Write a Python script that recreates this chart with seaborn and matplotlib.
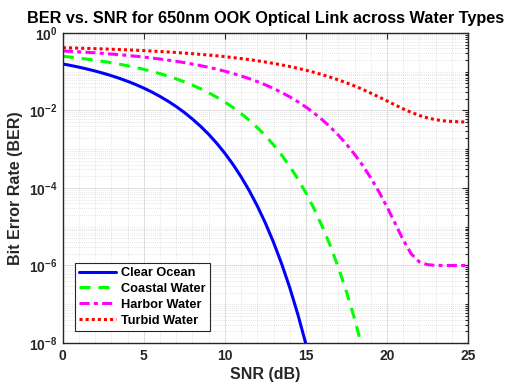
import numpy as np
import pandas as pd
import seaborn as sns
import matplotlib
matplotlib.use('Agg')
import matplotlib.pyplot as plt
from matplotlib.ticker import MultipleLocator, FixedLocator, LogLocator, FuncFormatter, NullFormatter

# =========================
# data (BER at each SNR step in dB)
nan = np.nan
snr_db = [0, 0.5, 1, 1.5, 2, 2.5, 3, 3.5, 4, 4.5, 5, 5.5, 6, 6.5, 7, 7.5, 8, 8.5,
          9, 9.5, 10, 10.5, 11, 11.5, 12, 12.5, 13, 13.5, 14, 14.5, 15, 15.5, 16,
          16.5, 17, 17.5, 18, 18.5, 19, 19.5, 20, 20.5, 21, 21.5, 22, 22.5, 23,
          23.5, 24, 24.5, 25]

clear_ocean = [0.1587, 0.1448, 0.1310, 0.1173, 0.1040, 0.0912, 0.0789, 0.0673,
               0.0565, 0.0466, 0.0377, 0.0298, 0.0230, 0.01728, 0.01258, 0.00886,
               0.0060, 0.00390, 0.00242, 0.00142, 7.83e-4, 4.05e-4, 1.94e-4,
               8.56e-5, 3.43e-5, 1.24e-5, 3.97e-6, 1.11e-6, 2.69e-7, 5.50e-8,
               9.34e-9, 1.28e-9, 1.40e-10,
               nan, nan, nan, nan, nan, nan, nan, nan, nan, nan, nan, nan, nan,
               nan, nan, nan, nan, nan]

coastal_water = [0.250, 0.2375, 0.2246, 0.2114, 0.1979, 0.1842, 0.1704, 0.1564,
                 0.1425, 0.1287, 0.1152, 0.1019, 0.0892, 0.0770, 0.0655, 0.0548,
                 0.0451, 0.0363, 0.0286, 0.0220, 0.01646, 0.01193, 0.00835,
                 0.00562, 0.00362, 0.00223, 0.00129, 7.07e-4, 3.62e-4, 1.71e-4,
                 7.44e-5, 2.93e-5, 1.03e-5, 3.27e-6, 8.9e-7, 2.11e-7, 4.2e-8,
                 6.89e-9, 9.2e-10,
                 nan, nan, nan, nan, nan, nan, nan, nan, nan, nan, nan, nan]

harbor_water = [0.3446, 0.3359, 0.3268, 0.3173, 0.3073, 0.2969, 0.2860, 0.2748,
                0.2630, 0.2509, 0.2384, 0.2256, 0.2124, 0.1990, 0.1853, 0.1715,
                0.1575, 0.1436, 0.1298, 0.1162, 0.1030, 0.0901, 0.0779, 0.0664,
                0.0557, 0.0458, 0.0370, 0.0292, 0.0225, 0.01686, 0.01224,
                0.00860, 0.00580, 0.00375, 0.00231, 0.00135, 7.44e-4, 3.83e-4,
                1.83e-4, 8.06e-5, 3.27e-5, 1.23e-5, 4.6e-6, 1.99e-6, 1.24e-6,
                1.05e-6, 1.01e-6, 1.0e-6, 1.0e-6, 1.0e-6, 1.0e-6]

turbid_water = [0.4165, 0.4114, 0.4059, 0.4001, 0.3942, 0.3878, 0.3810, 0.3740,
                0.3665, 0.3587, 0.3505, 0.3418, 0.3327, 0.3233, 0.3133, 0.3030,
                0.2922, 0.2809, 0.2693, 0.2572, 0.2448, 0.2319, 0.2188, 0.2054,
                0.1917, 0.1779, 0.1640, 0.1501, 0.1362, 0.1226, 0.1093, 0.0965,
                0.0841, 0.0725, 0.0617, 0.0518, 0.0429, 0.0350, 0.0281, 0.02239,
                0.01767, 0.01393, 0.01105, 0.00894, 0.00744, 0.00643, 0.00579,
                0.00541, 0.00520, 0.00509, 0.00504]

labels = ['Clear Ocean', 'Coastal Water', 'Harbor Water', 'Turbid Water']
colours = ['#0000ff', '#00ff00', '#ff00ff', '#ff0000']

# ================
# PLOTTING
# ================
sns.set_style("white")
plt.rcParams['font.family'] = ['Liberation Sans', 'DejaVu Sans']
plt.rcParams['mathtext.fontset'] = 'custom'
plt.rcParams['mathtext.rm'] = 'Liberation Sans:bold'
plt.rcParams['mathtext.bf'] = 'Liberation Sans:bold'
plt.rcParams['mathtext.it'] = 'Liberation Sans:bold'

dark = '#262626'

fig, ax = plt.subplots(figsize=(5.07, 3.88), dpi=100)
fig.subplots_adjust(left=0.124, right=0.923, bottom=0.116, top=0.915)

df = pd.DataFrame({'snr': snr_db,
                   labels[0]: clear_ocean,
                   labels[1]: coastal_water,
                   labels[2]: harbor_water,
                   labels[3]: turbid_water})

# dash patterns (in linewidth units) to look like matlab '-', '--', '-.', ':'
dash_styles = [None, (3.6, 2.6), (3.3, 1.4, 1.3, 1.4), (1.0, 1.0)]

for lab, col, dsh in zip(labels, colours, dash_styles):
    sub = df[['snr', lab]].dropna()
    sns.lineplot(x=sub['snr'], y=sub[lab], color=col, lw=2.2, label=lab, ax=ax)
    line = ax.lines[-1]
    if dsh is not None:
        line.set_dashes(dsh)
        line.set_dash_capstyle('butt')

ax.set_yscale('log')
ax.set_xlim(0, 25)
ax.set_ylim(1e-8, 1)

# ticks
ax.xaxis.set_major_locator(MultipleLocator(5))
ax.xaxis.set_minor_locator(MultipleLocator(1))
ax.yaxis.set_major_locator(FixedLocator([1e-8, 1e-6, 1e-4, 1e-2, 1]))
ax.yaxis.set_minor_locator(LogLocator(base=10, subs=np.arange(1, 10), numticks=100))
ax.yaxis.set_minor_formatter(NullFormatter())
ax.yaxis.set_major_formatter(FuncFormatter(lambda v, p: r'$\mathbf{10^{%d}}$' % int(round(np.log10(v)))))

ax.tick_params(which='both', direction='in', top=True, right=True, colors=dark,
               labelsize=10, width=0.8)
ax.tick_params(which='major', length=4.5, pad=4)
ax.tick_params(axis='y', which='minor', length=2.5)
ax.tick_params(axis='x', which='minor', length=0)
for lab in ax.get_xticklabels():
    lab.set_fontweight('bold')

# grid, major solid + minor dotted
ax.grid(True, which='major', color='#dddddd', lw=0.7, ls='-')
ax.grid(True, which='minor', color='#cfcfcf', lw=0.5, ls=(0, (1, 2)))
ax.set_axisbelow(True)

for sp in ax.spines.values():
    sp.set_color(dark)
    sp.set_linewidth(1.0)

ax.set_xlabel('SNR (dB)', fontsize=11.5, fontweight='bold', color=dark, labelpad=3)
ax.set_ylabel('Bit Error Rate (BER)', fontsize=11.5, fontweight='bold', color=dark, labelpad=4)
ax.set_title('BER vs. SNR for 650nm OOK Optical Link across Water Types',
             fontsize=11.7, fontweight='bold', color='black', pad=7.5)

leg = ax.legend(loc='lower left', bbox_to_anchor=(0.0296, 0.0387), borderaxespad=0,
                fancybox=False, framealpha=1, edgecolor=dark,
                handlelength=2.9, handletextpad=0.35, labelspacing=0.3,
                borderpad=0.35, prop={'weight': 'bold', 'size': 9.2})
leg.get_frame().set_linewidth(0.8)
for t in leg.get_texts():
    t.set_color('black')

plt.savefig('out.png', dpi=100)
plt.close()
